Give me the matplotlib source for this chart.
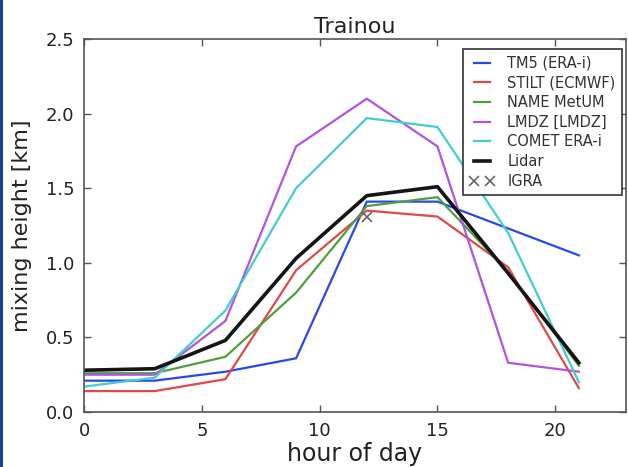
import numpy as np
import matplotlib
matplotlib.use('Agg')
import matplotlib.pyplot as plt
from matplotlib.patches import Rectangle

hours = [0, 3, 6, 9, 12, 15, 18, 21]

tm5 = [0.21, 0.21, 0.27, 0.36, 1.41, 1.41, 1.23, 1.05]
stilt = [0.14, 0.14, 0.22, 0.95, 1.35, 1.31, 0.97, 0.16]
name = [0.26, 0.26, 0.37, 0.80, 1.38, 1.44, 0.94, 0.31]
lmdz = [0.25, 0.25, 0.61, 1.78, 2.10, 1.78, 0.33, 0.27]
comet = [0.17, 0.23, 0.68, 1.50, 1.97, 1.91, 1.20, 0.20]
lidar = [0.28, 0.29, 0.48, 1.03, 1.45, 1.51, 0.93, 0.33]

igra_hour = [12]
igra = [1.31]

fig = plt.figure(figsize=(6.28, 4.67), dpi=100)
ax = fig.add_axes([84/628., 1 - 412/467., (626 - 84)/628., (412 - 39)/467.])

ax.plot(hours, tm5, color='#2848ea', lw=1.6, label='TM5 (ERA-i)')
ax.plot(hours, stilt, color='#e04848', lw=1.6, label='STILT (ECMWF)')
ax.plot(hours, name, color='#4f9e3f', lw=1.6, label='NAME MetUM')
ax.plot(hours, lmdz, color='#b054e0', lw=1.6, label='LMDZ [LMDZ]')
ax.plot(hours, comet, color='#45cccc', lw=1.6, label='COMET ERA-i')
ax.plot(hours, lidar, color='#151515', lw=2.6, label='Lidar')
ax.plot(igra_hour, igra, 'x', color='#666666', ms=7, mew=1.2, label='IGRA')

ax.set_xlim(0, 23)
ax.set_ylim(0, 2.5)
ax.set_xticks([0, 5, 10, 15, 20])
ax.set_yticks([0.0, 0.5, 1.0, 1.5, 2.0, 2.5])
ax.set_yticklabels(['0.0', '0.5', '1.0', '1.5', '2.0', '2.5'])
ax.tick_params(direction='in', top=True, right=True, length=5, width=1,
               color='#555555', labelsize=13, pad=7, labelcolor='#222222')
for s in ax.spines.values():
    s.set_color('#555555')
    s.set_linewidth(1.2)

ax.set_title('Trainou', fontsize=16, color='#222222', pad=4)
ax.set_xlabel('hour of day', fontsize=17, color='#222222', labelpad=2)
ax.set_ylabel('mixing height [km]', fontsize=16, color='#222222', labelpad=10)

leg = ax.legend(loc='upper right', fontsize=10.5, numpoints=2, handlelength=1.7,
                handletextpad=0.9, labelspacing=0.32, borderpad=0.45,
                borderaxespad=0, fancybox=False, framealpha=1,
                bbox_to_anchor=(0.9926, 0.973))
leg.get_frame().set_edgecolor('#333333')
leg.get_frame().set_linewidth(1.2)
for t in leg.get_texts():
    t.set_color('#333333')

# thin blue strip on the left edge
fig.add_artist(Rectangle((0, 0), 2.5/628., 1, transform=fig.transFigure,
                         color='#1a3f9e', lw=0))

fig.savefig('out.png', dpi=100)
